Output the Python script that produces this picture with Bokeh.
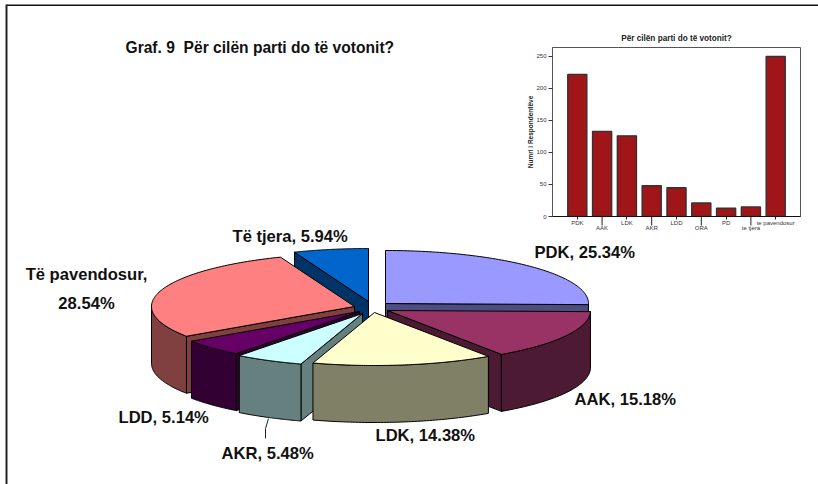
import numpy as np
from bokeh.plotting import figure
from bokeh.models import Range1d, LinearAxis, FixedTicker
from bokeh.core.properties import value
from bokeh.embed import file_html
from bokeh.resources import INLINE

FONT = "Liberation Sans"

# ---- pie data
pie_names = ["PDK", "AAK", "LDK", "AKR", "LDD", "Të pavendosur", "Të tjera"]
pie_shares = [25.34, 15.18, 14.38, 5.48, 5.14, 28.54, 5.94]
pie_top = ["#9999FF", "#993366", "#FFFFCC", "#CCFFFF", "#660066", "#FF8080", "#0066CC"]
pie_side = ["#4D4D80", "#4D1A33", "#808066", "#668080", "#330033", "#804040", "#003366"]
pie_apex_x = [385, 387, 374, 362, 359, 354, 368]
pie_apex_y = [303, 310, 312, 313, 311, 306, 301]
pie_order = [6, 0, 5, 4, 3, 1, 2]

# ---- inset bar chart data
bar_names = ["PDK", "AAK", "LDK", "AKR", "LDD", "ORA", "PD", "te tjera", "te pavendosur"]
bar_values = [222, 133, 126, 48, 45, 21, 13, 15, 250]
y_ticks = [0, 50, 100, 150, 200, 250]

RX, RY, DEPTH = 203.0, 53.0, 57.0


def arc(cx, cy, a0, a1, n=60):
    t = np.radians(np.linspace(a0, a1, n))
    return cx + RX * np.sin(t), cy - RY * np.cos(t)


p = figure(width=818, height=484, x_range=Range1d(0, 818), y_range=Range1d(484, 0),
           output_backend="svg", toolbar_location=None, min_border=0,
           outline_line_color=None, margin=0,
           styles={"position": "absolute", "left": "0px", "top": "0px"})
p.axis.visible = False
p.grid.visible = False

# page frame: top and left rules only
p.line([6, 818], [4.7, 4.7], line_color="#111111", line_width=1.6)
p.line([6, 6], [4, 484], line_color="#222222", line_width=2)

edges = np.concatenate([[0], np.cumsum(pie_shares)]) * 3.6
for i in pie_order:
    cx, cy = pie_apex_x[i], pie_apex_y[i]
    a0, a1 = edges[i], edges[i + 1]
    faces = []
    # radial cut faces that look towards the viewer
    if 180 < a0 < 360:
        ex, ey = arc(cx, cy, a0, a0, 1)
        faces.append(([cx, ex[0], ex[0], cx], [cy, ey[0], ey[0] + DEPTH, cy + DEPTH]))
    if 0 < a1 < 180:
        ex, ey = arc(cx, cy, a1, a1, 1)
        faces.append(([cx, ex[0], ex[0], cx], [cy, ey[0], ey[0] + DEPTH, cy + DEPTH]))
    # outer wall
    w0, w1 = max(a0, 90), min(a1, 270)
    if w1 > w0:
        ax, ay = arc(cx, cy, w0, w1)
        faces.append((list(ax) + list(ax[::-1]), list(ay) + list((ay + DEPTH)[::-1])))
    for fx, fy in faces:
        p.patch(fx, fy, fill_color=pie_side[i], line_color="black", line_width=1)
    ax, ay = arc(cx, cy, a0, a1, 90)
    p.patch([cx] + list(ax), [cy] + list(ay), fill_color=pie_top[i], line_color="black", line_width=1)

# leader line of the AKR label
p.line([268, 265, 265], [418, 428, 438], line_color="#222222", line_width=1)

label_text = [f"{n}, {s:.2f}%" for n, s in zip(pie_names, pie_shares)]
lx = [534, 574, 375, 221, 118, 232]
ly = [252, 399, 435, 453, 417, 236]
lt = label_text[:5] + [label_text[6]]
p.text(lx, ly, text=lt, text_font=value(FONT), text_font_style="bold", text_font_size="16.6px",
       text_color="#111111", text_align="left", text_baseline="middle")
p.text([86, 86], [274, 303], text=["Të pavendosur,", f"{pie_shares[5]:.2f}%"], text_font=value(FONT),
       text_font_style="bold", text_font_size="16.6px", text_color="#111111",
       text_align="center", text_baseline="middle")
p.text([125], [47], text=["Graf. 9\u00a0 Për cilën parti do të votonit?"], text_font=value(FONT),
       text_font_style="bold", text_font_size="15.6px", text_color="#111111",
       text_align="left", text_baseline="middle")

# ---- inset: frame spans x 552..800, y 47..216 on the page
xs = np.arange(1, len(bar_names) + 1)
q = figure(frame_width=248, frame_height=169, x_range=Range1d(0, 10), y_range=Range1d(0, 264),
           output_backend="svg", toolbar_location=None,
           min_border_left=52, min_border_right=5, min_border_top=19, min_border_bottom=24,
           background_fill_alpha=0, border_fill_alpha=0,
           outline_line_color="#555555", outline_line_width=1, margin=0,
           styles={"position": "absolute", "left": "500px", "top": "26px"})
q.grid.visible = False
q.xaxis.visible = False
q.vbar(x=xs, top=bar_values, width=0.77, bottom=0, fill_color="#A01518", line_color="#333333", line_width=1.4)

q.yaxis.ticker = FixedTicker(ticks=y_ticks)
q.yaxis.minor_tick_line_color = None
q.yaxis.major_tick_in = 0
q.yaxis.major_tick_out = 4
q.yaxis.major_tick_line_color = "#333333"
q.yaxis.axis_line_color = "#555555"
q.yaxis.major_label_text_font = FONT
q.yaxis.major_label_text_font_size = "6px"
q.yaxis.major_label_text_color = "#333333"
q.yaxis.major_label_standoff = 2
q.yaxis.axis_label = "Numri i Respondentëve"
q.yaxis.axis_label_text_font = FONT
q.yaxis.axis_label_text_font_style = "bold"
q.yaxis.axis_label_text_font_size = "6.5px"
q.yaxis.axis_label_text_color = "#222222"
q.yaxis.axis_label_standoff = -1

# staggered category labels: two stacked axes
for start, tick_len, standoff, line_col in [(0, 3, 0, "#111111"), (1, 0, -4, None)]:
    ticks = [int(v) for v in xs[start::2]]
    ax = LinearAxis(ticker=FixedTicker(ticks=ticks),
                    major_label_overrides={int(v): bar_names[int(v) - 1] for v in ticks})
    ax.minor_tick_line_color = None
    ax.major_tick_in = 0
    ax.major_tick_out = tick_len
    ax.major_tick_line_color = "#222222" if tick_len else None
    ax.axis_line_color = line_col
    ax.axis_line_width = 1.2
    ax.major_label_text_font = FONT
    ax.major_label_text_font_size = "6px"
    ax.major_label_text_color = "#333333"
    ax.major_label_standoff = standoff
    q.add_layout(ax, "below")

# long ticks of the lower label row, drawn on the page figure under the inset
p.segment(x0=552 + 24.8 * xs[1::2], y0=216, x1=552 + 24.8 * xs[1::2], y1=225, line_color="#222222", line_width=1)

q.title.text = "Për cilën parti do të votonit?"
q.title.text_font = FONT
q.title.text_font_size = "8.2px"
q.title.text_font_style = "bold"
q.title.text_color = "#222222"
q.title.align = "center"

open("out.html", "w").write(file_html([p, q], INLINE))
